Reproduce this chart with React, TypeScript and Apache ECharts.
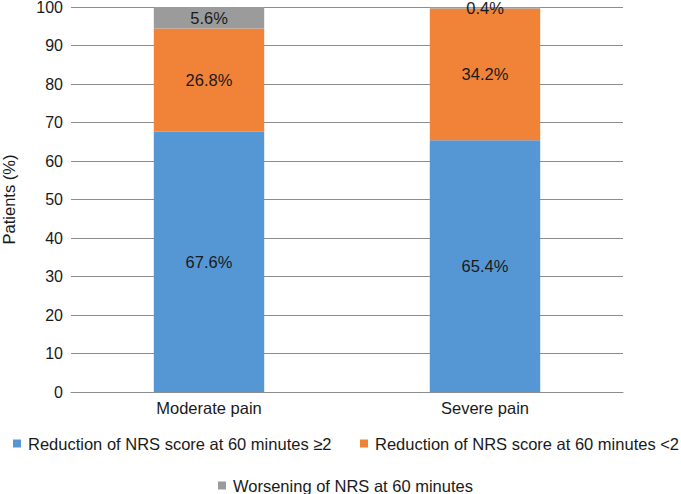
import React, { useEffect, useRef } from "react";
import * as echarts from "echarts";

const categories = ["Moderate pain", "Severe pain"];
const reductionGE2 = [67.6, 65.4];
const reductionLT2 = [26.8, 34.2];
const worsening = [5.6, 0.4];
const seriesNames = [
  "Reduction of NRS score at 60 minutes ≥2",
  "Reduction of NRS score at 60 minutes <2",
  "Worsening of NRS at 60 minutes",
];
const colors = ["#5597D4", "#F08338", "#9B9B9B"];

const FONT = "Liberation Sans, Arial, sans-serif";
const TXT = "#1a1a1a";
const FS = 16.5;

export default function App() {
  const ref = useRef<HTMLDivElement>(null);
  useEffect(() => {
    if (!ref.current) return;
    const chart = echarts.init(ref.current, undefined, { renderer: "svg" });
    const values = [reductionGE2, reductionLT2, worsening];
    const legendPos = [
      { left: 8, top: 430 },
      { left: 355, top: 430 },
      { left: 213, top: 472 },
    ];
    chart.setOption({
      animation: false,
      textStyle: { fontFamily: FONT },
      grid: { left: 71, right: 58, top: 7, bottom: 102, outerBoundsMode: "none", containLabel: false },
      legend: seriesNames.map((n, i) => ({
        data: [n],
        left: legendPos[i].left,
        top: legendPos[i].top,
        width: 400,
        itemWidth: 8,
        itemHeight: 8,
        icon: "rect",
        textStyle: { fontSize: FS, color: TXT, fontFamily: FONT, padding: [0, 0, 0, 2] },
      })),
      xAxis: {
        type: "category",
        data: categories,
        axisLine: { lineStyle: { color: "#8c8c8c", width: 1 } },
        axisTick: { show: false },
        axisLabel: { fontSize: FS, color: TXT, margin: 7, fontFamily: FONT },
      },
      yAxis: {
        type: "value",
        min: 0,
        max: 100,
        interval: 10,
        name: "Patients (%)",
        nameLocation: "middle",
        nameGap: 54,
        nameTextStyle: { fontSize: FS, color: TXT, fontFamily: FONT, lineHeight: 16 },
        axisLine: { show: false },
        axisTick: { show: false },
        axisLabel: { fontSize: 16, color: TXT, margin: 8, fontFamily: FONT, lineHeight: 14, padding: [4, 0, 0, 0] },
        splitLine: { lineStyle: { color: "#8c8c8c", width: 1 } },
      },
      series: values.map((v, i) => ({
        name: seriesNames[i],
        type: "bar",
        stack: "total",
        barWidth: "40%",
        data: v,
        itemStyle: { color: colors[i] },
        label: {
          show: true,
          position: "inside",
          formatter: (p: any) => p.value.toFixed(1) + "%",
          fontSize: FS,
          color: TXT,
          fontFamily: FONT,
        },
      })),
    });
    return () => chart.dispose();
  }, []);
  return <div ref={ref} style={{ width: 681, height: 494, position: "absolute", left: 0, top: 0 }} />;
}
